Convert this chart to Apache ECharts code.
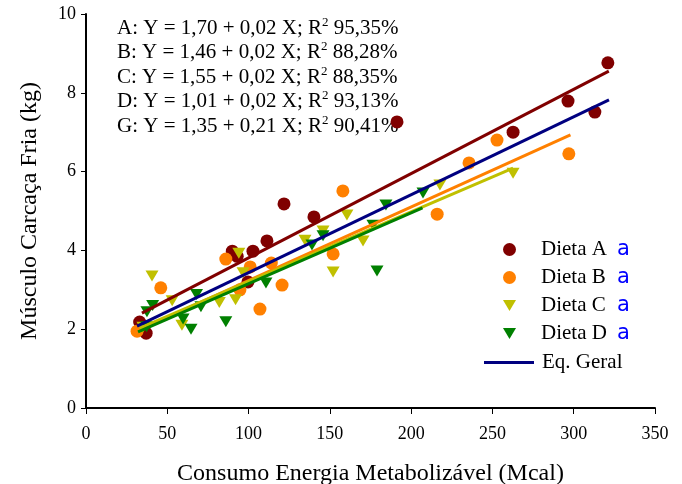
<!DOCTYPE html>
<html><head><meta charset="utf-8">
<script src="https://cdn.jsdelivr.net/npm/echarts@6/dist/echarts.min.js"></script>
<style>html,body{margin:0;padding:0;background:#fff}#c{width:682px;height:484px}</style>
</head><body><div id="c"></div>
<script>
// Dieta A
const aX = [33, 37, 90, 93, 99.6, 102.7, 111.3, 121.8, 140.2, 191.3, 262.7, 296.5, 313, 321];
const aY = [2.18, 1.9, 3.98, 3.85, 3.2, 3.98, 4.24, 5.18, 4.85, 7.26, 7.0, 7.79, 7.51, 8.76];
// Dieta B
const bX = [31.4, 46, 86, 94.7, 101, 107, 114, 120.6, 152, 158, 216, 235.6, 252.8, 297];
const bY = [1.95, 3.05, 3.78, 3.0, 3.58, 2.51, 3.68, 3.12, 3.91, 5.51, 4.92, 6.22, 6.8, 6.45];
// Dieta C
const cX = [35, 40.6, 53, 59, 82, 92, 94, 96.6, 134.7, 145.8, 152, 160.5, 170.4, 217.7, 262.7];
const cY = [2.05, 3.35, 2.72, 2.1, 2.68, 2.75, 3.93, 3.43, 4.26, 4.49, 3.45, 4.9, 4.24, 5.66, 5.96];
// Dieta D
const dX = [37.3, 37.5, 41, 59.7, 64.6, 68, 70.7, 86, 110.7, 139, 145.8, 176.5, 179, 184.5, 207.3];
const dY = [2.06, 2.44, 2.6, 2.26, 2.0, 2.88, 2.57, 2.19, 3.17, 4.14, 4.37, 4.64, 3.48, 5.15, 5.46];
// trend line endpoints [x0, x1], [y0, y1]
const trendAX = [34.4, 321.6], trendAY = [2.41, 8.55];
const trendBX = [33, 298],     trendBY = [1.98, 6.93];
const trendCX = [33, 262.7],   trendCY = [2.03, 6.09];
const trendDX = [32, 207],     trendDY = [1.93, 5.08];
const trendGX = [31.4, 321.7], trendGY = [2.08, 7.82];
const seriesNames = ['Dieta A', 'Dieta B', 'Dieta C', 'Dieta D', 'Eq. Geral'];
const equations = [
  ['A: Y = 1,70 + 0,02 X; R', '95,35%'],
  ['B: Y = 1,46 + 0,02 X; R', '88,28%'],
  ['C: Y = 1,55 + 0,02 X; R', '88,35%'],
  ['D: Y = 1,01 + 0,02 X; R', '93,13%'],
  ['G: Y = 1,35 + 0,21 X; R', '90,41%']
];
const xTicks = {min: 0, max: 350, interval: 50};
const yTicks = {min: 0, max: 10, interval: 2};

const zip = (xs, ys) => xs.map((x, i) => [x, ys[i]]);
const SERIF = '"Liberation Serif", "DejaVu Serif", serif';
const TRI = 'path://M0,0L12,0L6,10Z';
const colA = '#800000', colB = '#ff8000', colC = '#c0c000', colD = '#008000', colG = '#000080';

function scatter(name, xs, ys, color, symbol, size) {
  return {name, type: 'scatter', data: zip(xs, ys), symbol, symbolSize: size,
    itemStyle: {color, opacity: 1}, z: 3};
}
function trend(name, xs, ys, color, w) {
  return {name, type: 'line', data: zip(xs, ys), symbol: 'none', showSymbol: false,
    lineStyle: {color, width: w}, itemStyle: {color}, z: 4, silent: true};
}

const chart = echarts.init(document.getElementById('c'), null, {renderer: 'canvas'});
const graphics = equations.map((e, i) => ({
  type: 'text', left: 117, top: 16 + i * 24.5, z: 0,
  style: {
    text: '{b|' + e[0] + '}{s|2}{b| ' + e[1] + '}',
    rich: {
      b: {fontFamily: SERIF, fontSize: 21, fill: '#000', lineHeight: 24},
      s: {fontFamily: SERIF, fontSize: 13, fill: '#000', lineHeight: 24, verticalAlign: 'top', padding: [0, 0, 8, 0]}
    }
  }
}));

chart.setOption({
  animation: false,
  grid: {left: 86, right: 27, top: 14, bottom: 76, containLabel: false, outerBoundsMode: 'none'},
  xAxis: {
    type: 'value', min: xTicks.min, max: xTicks.max, interval: xTicks.interval,
    name: 'Consumo Energia Metabolizável (Mcal)', nameLocation: 'middle', nameGap: 54,
    nameTextStyle: {fontFamily: SERIF, fontSize: 24, color: '#000'},
    axisLine: {lineStyle: {color: '#000', width: 2}},
    axisTick: {show: true, length: 6, lineStyle: {color: '#000', width: 1}},
    axisLabel: {fontFamily: SERIF, fontSize: 18, color: '#000', margin: 17},
    splitLine: {show: false}
  },
  yAxis: {
    type: 'value', min: yTicks.min, max: yTicks.max, interval: yTicks.interval,
    name: 'Músculo Carcaça Fria (kg)', nameLocation: 'middle', nameGap: 44, nameRotate: 90,
    nameTextStyle: {fontFamily: SERIF, fontSize: 24, color: '#000'},
    axisLine: {show: true, lineStyle: {color: '#000', width: 2}},
    axisTick: {show: true, length: 5, lineStyle: {color: '#000', width: 1}},
    axisLabel: {fontFamily: SERIF, fontSize: 18, color: '#000', margin: 10},
    splitLine: {show: false}
  },
  legend: [
    {
      data: seriesNames.slice(0, 4), orient: 'vertical', left: 498, top: 234,
      itemWidth: 13, itemHeight: 13, itemGap: 7,
      formatter: n => '{n|' + n + '}{a|a}',
      textStyle: {
        padding: [0, 0, 0, 20], lineHeight: 20,
        rich: {
          n: {fontFamily: SERIF, fontSize: 21, color: '#000', width: 76, lineHeight: 20},
          a: {fontFamily: '"DejaVu Sans", sans-serif', fontSize: 21, color: '#0000ff', lineHeight: 20}
        }
      }
    },
    {
      data: [{name: 'Eq. Geral', icon: 'rect'}], orient: 'vertical', left: 479, top: 347,
      itemWidth: 50, itemHeight: 3,
      itemStyle: {color: colG},
      textStyle: {fontFamily: SERIF, fontSize: 21, color: '#000', padding: [0, 0, 0, 3], lineHeight: 20}
    }
  ],
  graphic: graphics,
  series: [
    scatter('Dieta A', aX, aY, colA, 'circle', 13),
    scatter('Dieta B', bX, bY, colB, 'circle', 13),
    scatter('Dieta C', cX, cY, colC, TRI, [13, 11]),
    scatter('Dieta D', dX, dY, colD, TRI, [13, 11]),
    trend('tA', trendAX, trendAY, colA, 3),
    trend('tB', trendBX, trendBY, colB, 3),
    trend('tC', trendCX, trendCY, colC, 3),
    trend('tD', trendDX, trendDY, colD, 3),
    trend('Eq. Geral', trendGX, trendGY, colG, 3)
  ]
});
</script></body></html>
